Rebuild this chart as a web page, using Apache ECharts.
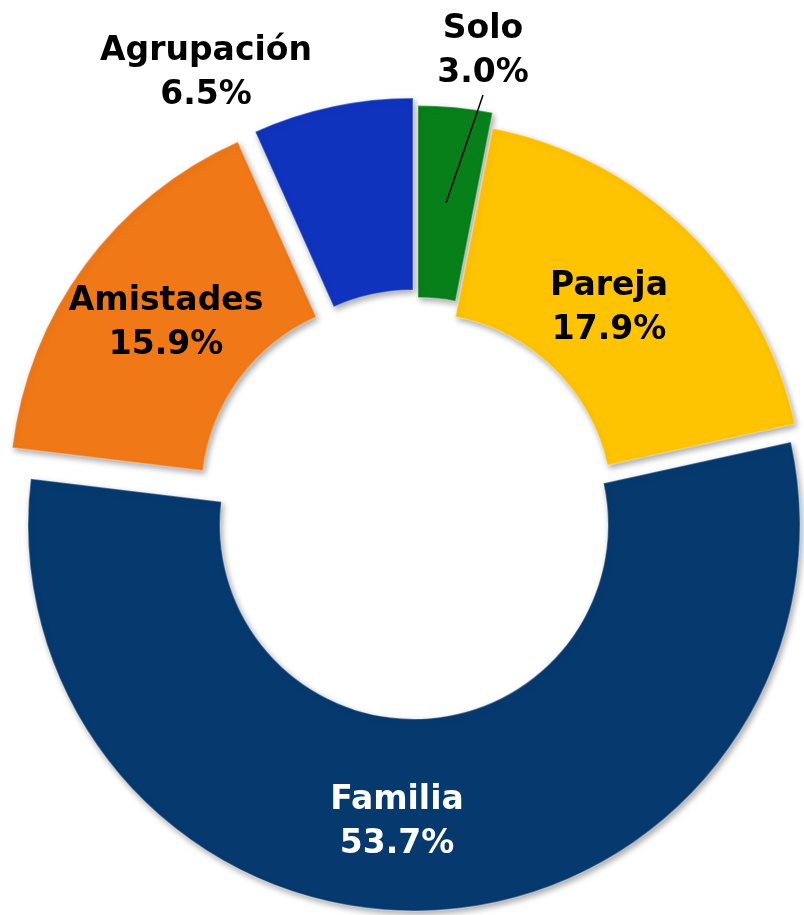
<!DOCTYPE html>
<html>
<head>
<meta charset="utf-8">
<script src="https://cdn.jsdelivr.net/npm/echarts@6/dist/echarts.min.js"></script>
<style>
  html, body { margin: 0; padding: 0; background: #fff; }
  #chart { width: 804px; height: 915px; }
</style>
</head>
<body>
<div id="chart"></div>
<script>
  // datos
  var categories = ['Solo', 'Pareja', 'Familia', 'Amistades', 'Agrupación']
  var percents = [3.0, 17.9, 53.7, 15.9, 6.5]
  var colors = ['#07801a', '#fec402', '#063a6f', '#f07817', '#0f33bc']
  var textColors = ['#000', '#000', '#fff', '#000', '#000']

  // desplazamiento (explosión) de cada sector respecto al centro y posición de etiquetas
  var center = [418, 507]
  var radius = [194, 386]
  var shift = [[0, -15.5], [0, 0], [-4, 18], [-22.5, -13], [-5, -23]]
  var labelAt = [[483, 51], [609, 308], [397, 822], [166, 323], [206, 73]]

  var total = percents.reduce(function (a, b) { return a + b }, 0)
  var hidden = { color: 'rgba(0,0,0,0)', shadowBlur: 0, borderWidth: 0 }

  function centerOf (idx) {
    return [center[0] + shift[idx][0], center[1] + shift[idx][1]]
  }

  // centro geométrico del sector (para la línea guía de Solo)
  function midPoint (idx) {
    var before = 0
    for (var i = 0; i < idx; i++) before += percents[i]
    var a = (before + percents[idx] / 2) / total * Math.PI * 2
    var rho = (radius[0] + radius[1]) / 2
    var c = centerOf(idx)
    return [c[0] + Math.sin(a) * rho, c[1] - Math.cos(a) * rho]
  }

  function layoutLabel (p) {
    var pos = labelAt[p.dataIndex]
    var out = { x: pos[0], y: pos[1], align: 'center', verticalAlign: 'middle' }
    if (p.dataIndex === 0) {
      var end = midPoint(0)
      var start = [pos[0], pos[1] + 44]
      out.labelLinePoints = [start, [(start[0] + end[0]) / 2, (start[1] + end[1]) / 2], end]
    }
    return out
  }

  // una serie por sector; la etiqueta con línea guía va en su propia serie encima
  function makeSeries (k, withFill, withLabel, z) {
    var data = []
    for (var i = 0; i < categories.length; i++) {
      var own = i === k
      data.push({
        name: categories[i],
        value: percents[i],
        itemStyle: own && withFill ? { color: colors[i] } : hidden,
        label: own && withLabel ? {
          show: true,
          position: (i === 0 || i === 4) ? 'outside' : 'inside',
          color: textColors[i]
        } : { show: false },
        labelLine: { show: own && withLabel && i === 0 }
      })
    }
    return {
      type: 'pie',
      silent: true,
      z: z,
      center: centerOf(k),
      radius: radius,
      startAngle: 90,
      clockwise: true,
      avoidLabelOverlap: false,
      emphasis: { disabled: true },
      itemStyle: {
        borderColor: 'rgba(255,255,255,0.3)',
        borderWidth: 1.5,
        shadowBlur: 6,
        shadowOffsetX: 2,
        shadowOffsetY: 3,
        shadowColor: 'rgba(0,0,0,0.35)'
      },
      label: {
        fontFamily: 'DejaVu Sans',
        fontWeight: 'bold',
        fontSize: 33,
        lineHeight: 44,
        align: 'center',
        formatter: function (p) {
          return p.name + '\n' + p.value.toFixed(1) + '%'
        }
      },
      labelLine: {
        showAbove: true,
        lineStyle: { color: '#000', width: 1.5 }
      },
      labelLayout: layoutLabel,
      data: data
    }
  }

  var series = []
  for (var k = 0; k < categories.length; k++) {
    series.push(makeSeries(k, true, k !== 0, 2))
  }
  series.push(makeSeries(0, false, true, 3))

  var myChart = echarts.init(document.getElementById('chart'))
  myChart.setOption({
    animation: false,
    series: series
  })
</script>
</body>
</html>
